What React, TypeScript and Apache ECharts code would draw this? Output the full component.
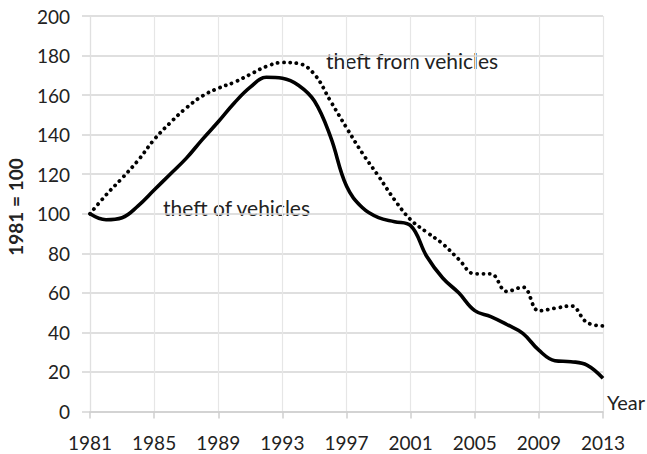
import React, { useEffect, useRef } from "react";
import * as echarts from "echarts";

const years = [
  "1981", "1982", "1983", "1984", "1985", "1986", "1987", "1988", "1989", "1990",
  "1991", "1992", "1993", "1994", "1995", "1996", "1997", "1998", "1999", "2000",
  "2001", "2002", "2003", "2004", "2005", "2006", "2007", "2008", "2009", "2010",
  "2011", "2012", "2013",
];

const theftOfVehicles = [
  100, 97, 98, 104, 112, 120, 128, 137.5, 146.5, 156,
  164, 169, 168.5, 165, 157, 139, 114, 103, 98, 96,
  94, 78.5, 67.5, 60, 51, 48, 44, 39.5, 31, 25.7,
  25.2, 23.5, 16.8,
];

const theftFromVehicles = [
  100, 109.5, 118, 127, 137.5, 146, 153.5, 159.5, 163.5, 166.5,
  170.5, 174.5, 176.5, 176, 170.5, 157, 143.5, 130.5, 119, 107,
  97, 90.7, 84.8, 77, 69.6, 69.6, 60.7, 62.9, 50.9, 52.2,
  53.4, 45, 43.3,
];

const seriesNames = ["theft of vehicles", "theft from vehicles"];
const yAxisTitle = "1981 = 100";
const xAxisTitle = "Year";

const FONT = "Lato, 'Open Sans', sans-serif";
const TEXT = "#222222";

export default function App() {
  const ref = useRef<HTMLDivElement>(null);
  useEffect(() => {
    if (!ref.current) return;
    const chart = echarts.init(ref.current, undefined, { renderer: "svg" });
    chart.setOption({
      animation: false,
      backgroundColor: "#ffffff",
      textStyle: { fontFamily: FONT },
      grid: { left: 90, right: 44, top: 16, bottom: 42.5, containLabel: false },
      xAxis: {
        type: "category",
        data: years,
        boundaryGap: false,
        axisLine: { show: true, lineStyle: { color: "#cfcfcf", width: 1.5 } },
        axisTick: { show: true, interval: 3, length: 7, lineStyle: { color: "#cfcfcf", width: 1.5 } },
        axisLabel: { interval: 3, margin: 21, fontSize: 19, color: TEXT, fontFamily: FONT },
        splitLine: { show: true, interval: 3, lineStyle: { color: "#e6e6e6", width: 1.2 } },
      },
      yAxis: {
        type: "value",
        min: 0,
        max: 200,
        interval: 20,
        axisLine: { show: true, lineStyle: { color: "#e0e0e0", width: 1.2 } },
        axisTick: { show: true, length: 8, lineStyle: { color: "#d4d4d4", width: 1.5 } },
        axisLabel: { margin: 20, fontSize: 19, color: TEXT, fontFamily: FONT },
        splitLine: { show: true, lineStyle: { color: "#d4d4d4", width: 1.5 } },
      },
      series: [
        {
          name: seriesNames[0],
          type: "line",
          data: theftOfVehicles,
          smooth: 0.4,
          symbol: "none",
          lineStyle: { color: "#000000", width: 3.6 },
          z: 3,
        },
        {
          name: seriesNames[1],
          type: "line",
          data: theftFromVehicles,
          smooth: 0.4,
          symbol: "none",
          lineStyle: { color: "#000000", width: 3.8, type: [0.1, 6.2], cap: "round" },
          z: 4,
        },
      ],
      graphic: [
        {
          type: "text",
          left: 163,
          top: 197,
          style: { text: seriesNames[0], fontSize: 21, fill: TEXT, fontFamily: FONT },
        },
        {
          type: "text",
          left: 326,
          top: 50,
          style: { text: seriesNames[1], fontSize: 21, fill: TEXT, fontFamily: FONT },
        },
        {
          type: "text",
          left: 607,
          top: 392,
          style: { text: xAxisTitle, fontSize: 20, fill: TEXT, fontFamily: FONT },
        },
        {
          type: "text",
          x: 15.5,
          y: 207,
          rotation: Math.PI / 2,
          style: {
            text: yAxisTitle,
            fontSize: 19,
            fontWeight: "bold",
            fill: TEXT,
            fontFamily: FONT,
            align: "center",
            verticalAlign: "middle",
          },
        },
      ],
    });
    return () => chart.dispose();
  }, []);
  return (
    <div
      ref={ref}
      style={{ position: "fixed", left: 0, top: 0, width: 647, height: 454 }}
    />
  );
}
